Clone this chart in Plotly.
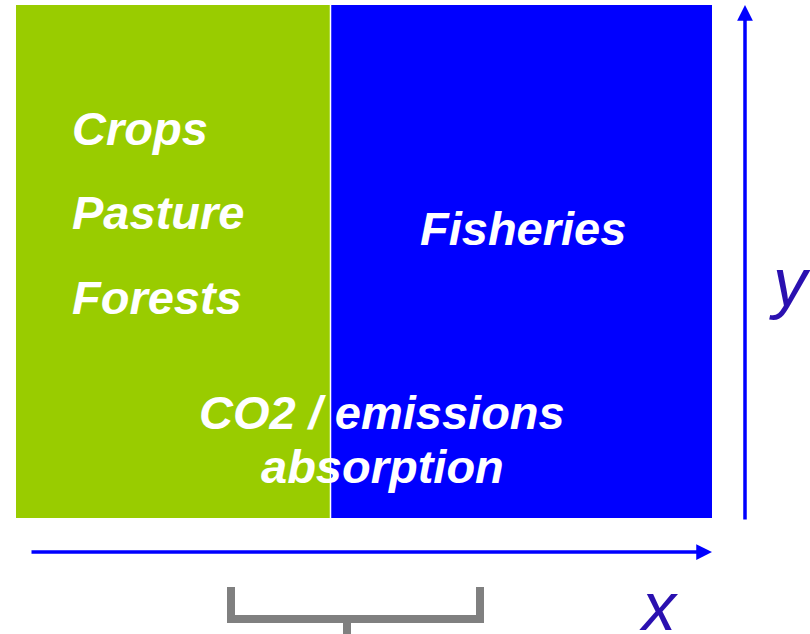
import plotly.graph_objects as go

# Regions of the footprint diagram (extent along x, in diagram units)
regions = ["Land", "Ocean"]
region_start = [16, 331]
region_width = [314, 381]
region_colors = ["#99cc00", "#0000ff"]
region_top = 5
region_height = 513

# Text labels
land_labels = ["Crops", "Pasture", "Forests"]
ocean_labels = ["Fisheries"]
shared_labels = ["CO2 / emissions", "absorption"]

TEXT_FONT = dict(family="Liberation Sans, Arial", size=47, color="white")
AXIS_BLUE = "#0000ff"
LABEL_BLUE = "#2a10b0"

fig = go.Figure()

######
# Region blocks as bars on a pixel-like axis
######
for name, x0, w, c in zip(regions, region_start, region_width, region_colors):
    fig.add_trace(go.Bar(
        x=[x0 + w / 2], y=[region_height], base=[region_top], width=[w],
        marker=dict(color=c, line=dict(width=0)),
        name=name, showlegend=False, hoverinfo="skip"
    ))

# thin white divider between the blocks
fig.add_shape(type="line", x0=region_start[1] - 0.5, x1=region_start[1] - 0.5,
              y0=region_top, y1=region_top + region_height,
              line=dict(color="white", width=1.5))

# Land labels, left aligned
for i, lab in enumerate(land_labels):
    fig.add_annotation(x=70, y=128 + i * 84.5, text="<b><i>%s</i></b>" % lab,
                       xanchor="left", yanchor="middle", showarrow=False, font=TEXT_FONT)

# Ocean label
fig.add_annotation(x=523, y=228, text="<b><i>%s</i></b>" % ocean_labels[0],
                   xanchor="center", yanchor="middle", showarrow=False, font=TEXT_FONT)

# Shared CO2 label across both blocks
for i, lab in enumerate(shared_labels):
    fig.add_annotation(x=382, y=412 + i * 54, text="<b><i>%s</i></b>" % lab,
                       xanchor="center", yanchor="middle", showarrow=False, font=TEXT_FONT)

######
# Axis arrows and labels
######
fig.add_annotation(x=712, y=552, ax=30, ay=552, axref="x", ayref="y",
                   text="", showarrow=True, arrowhead=2, arrowsize=0.9,
                   arrowwidth=3.5, arrowcolor=AXIS_BLUE)
fig.add_annotation(x=745, y=5, ax=745, ay=521, axref="x", ayref="y",
                   text="", showarrow=True, arrowhead=2, arrowsize=0.9,
                   arrowwidth=3.5, arrowcolor=AXIS_BLUE)

fig.add_annotation(x=658, y=606, text="<i>x</i>", showarrow=False,
                   xanchor="center", yanchor="middle",
                   font=dict(family="Liberation Sans, Arial", size=68, color=LABEL_BLUE))
fig.add_annotation(x=790, y=282, text="<i>y</i>", showarrow=False,
                   xanchor="center", yanchor="middle",
                   font=dict(family="Liberation Sans, Arial", size=68, color=LABEL_BLUE))

# Grey bracket under the shared portion
grey = dict(color="#808080", width=8)
fig.add_shape(type="path", path="M 231,587 L 231,619 L 480,619 L 480,587",
              line=grey)
fig.add_shape(type="line", x0=347, x1=347, y0=619, y1=640, line=grey)

fig.update_xaxes(range=[0, 810], visible=False, fixedrange=True)
fig.update_yaxes(range=[634, 0], visible=False, fixedrange=True)
fig.update_layout(
    width=810, height=634,
    margin=dict(l=0, r=0, t=0, b=0),
    plot_bgcolor="white", paper_bgcolor="white",
    bargap=0, barmode="overlay"
)

# drop the default page margin so the figure sits at the window corner
fig.write_html("out.html", config={"displayModeBar": False},
               post_script="document.body.style.margin='0';")
